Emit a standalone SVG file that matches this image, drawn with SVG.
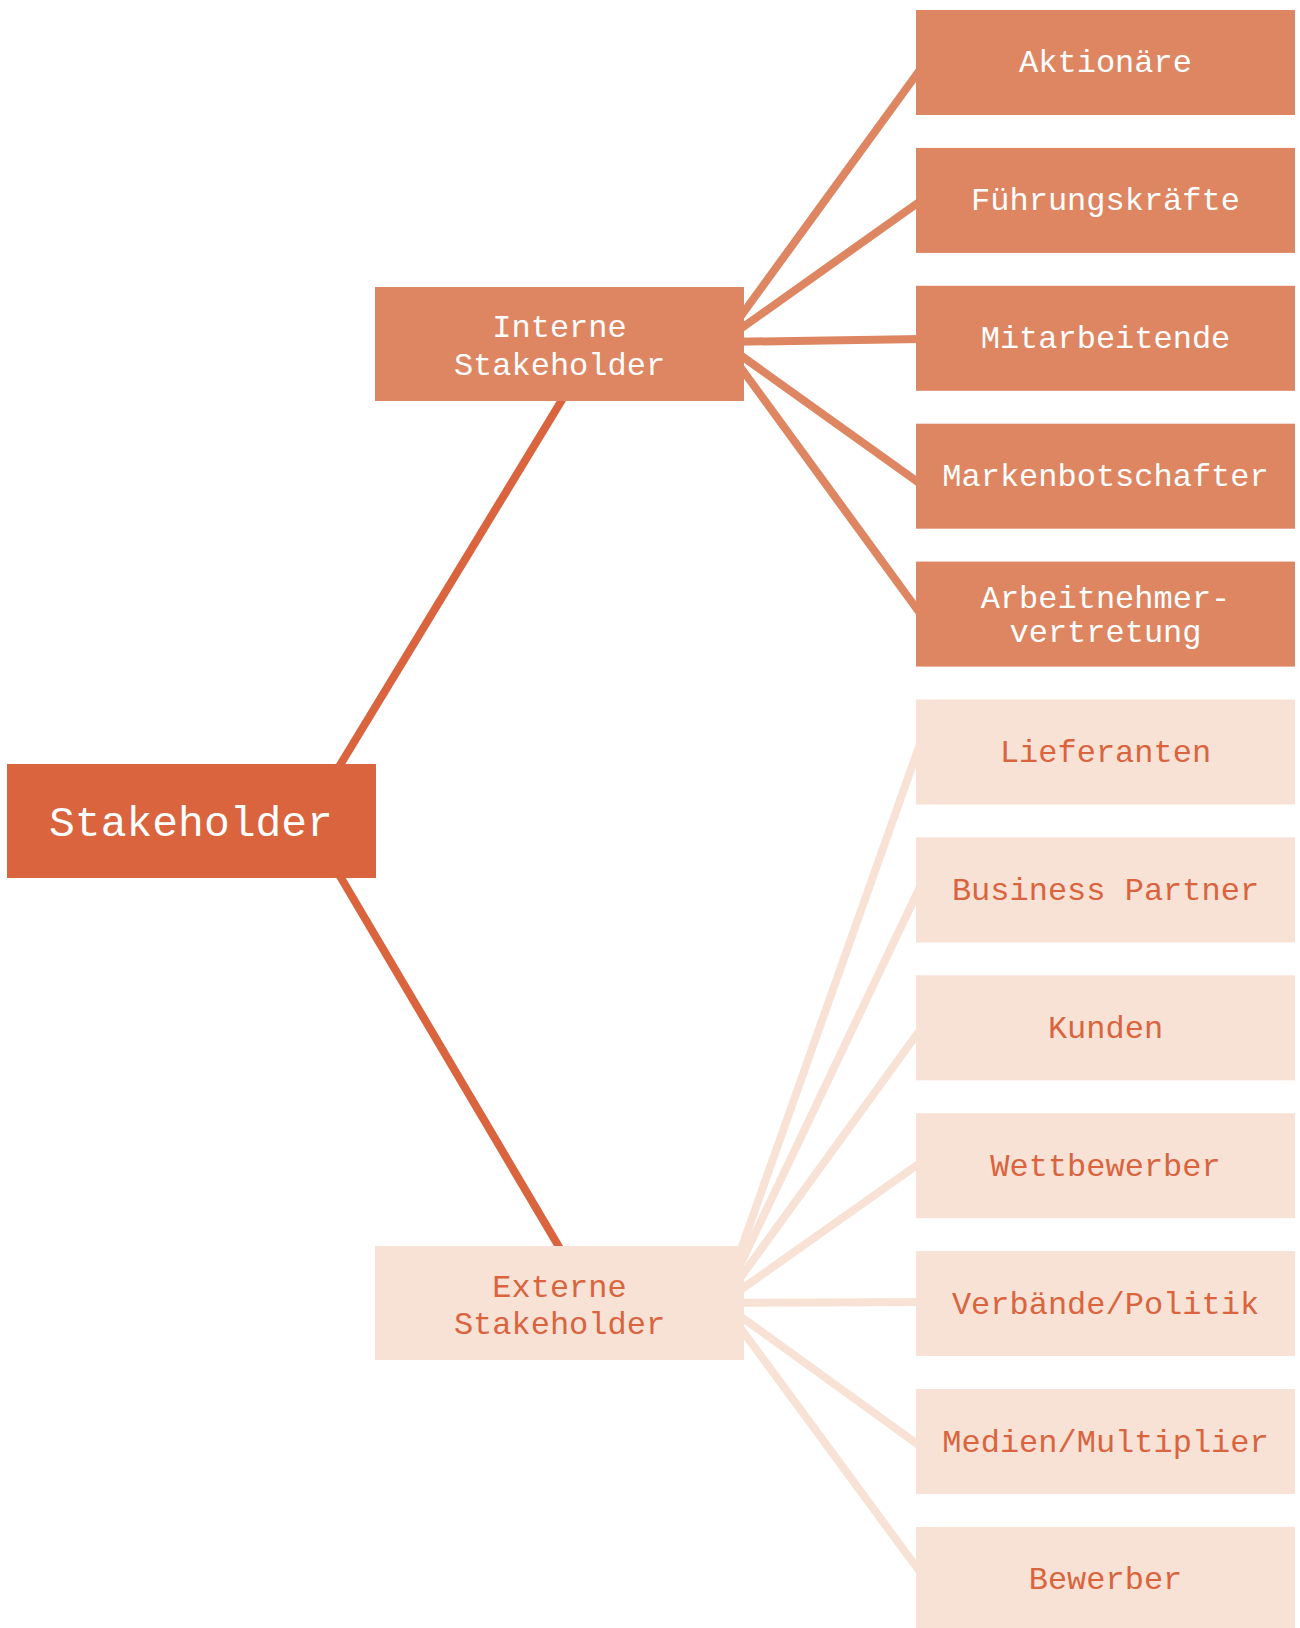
<svg xmlns="http://www.w3.org/2000/svg" width="1300" height="1628" viewBox="0 0 1300 1628">
<style>
.dark{fill:#D9643E}
.mid{fill:#DE8662}
.light{fill:#F8E2D6}
text{font-family:"Liberation Mono","DejaVu Sans Mono",monospace;text-anchor:middle}
.t1{font-size:43px;fill:#FFFFFF}
.t2{font-size:32px;fill:#FFFFFF}
.t3{font-size:32px;fill:#D9643E}
.c0{stroke:#D9643E;stroke-width:8;fill:none}
.c1{stroke:#DE8662;stroke-width:8;fill:none}
.c2{stroke:#F8E2D6;stroke-width:8;fill:none}
</style>
<rect width="1300" height="1628" fill="#FFFFFF"/>
<g id="connectors">
<line class="c0" x1="334" y1="775" x2="568" y2="390"/>
<line class="c0" x1="334" y1="866" x2="565" y2="1257"/>
<line class="c1" x1="722" y1="342" x2="922" y2="67"/>
<line class="c1" x1="722" y1="342" x2="922" y2="200"/>
<line class="c1" x1="722" y1="342" x2="922" y2="339"/>
<line class="c1" x1="722" y1="342" x2="922" y2="485"/>
<line class="c1" x1="722" y1="342" x2="922" y2="616"/>
<line class="c2" x1="722" y1="1303" x2="920" y2="744"/>
<line class="c2" x1="722" y1="1303" x2="920" y2="887"/>
<line class="c2" x1="722" y1="1303" x2="920" y2="1030"/>
<line class="c2" x1="722" y1="1303" x2="920" y2="1163"/>
<line class="c2" x1="722" y1="1303" x2="920" y2="1302"/>
<line class="c2" x1="722" y1="1303" x2="920" y2="1446"/>
<line class="c2" x1="722" y1="1303" x2="920" y2="1572"/>
</g>
<g id="stakeholder"><rect class="dark" x="7" y="764" width="369" height="114"/><text class="t1" x="191" y="836">Stakeholder</text></g>
<g id="interne"><rect class="mid" x="375" y="287" width="369" height="114"/><text class="t2" x="559.5" y="337">Interne</text><text class="t2" x="559.5" y="375">Stakeholder</text></g>
<g id="externe"><rect class="light" x="375" y="1246" width="369" height="114"/><text class="t3" x="559.5" y="1297">Externe</text><text class="t3" x="559.5" y="1334">Stakeholder</text></g>
<g id="aktionaere"><rect class="mid" x="916" y="10" width="379" height="105"/><text class="t2" x="1105.5" y="72">Aktionäre</text></g>
<g id="fuehrungskraefte"><rect class="mid" x="916" y="147.9" width="379" height="105"/><text class="t2" x="1105.5" y="210.4">Führungskräfte</text></g>
<g id="mitarbeitende"><rect class="mid" x="916" y="285.8" width="379" height="105"/><text class="t2" x="1105.5" y="348.3">Mitarbeitende</text></g>
<g id="markenbotschafter"><rect class="mid" x="916" y="423.7" width="379" height="105"/><text class="t2" x="1105.5" y="486.2">Markenbotschafter</text></g>
<g id="arbeitnehmervertretung"><rect class="mid" x="916" y="561.6" width="379" height="105"/><text class="t2" x="1105.5" y="608">Arbeitnehmer-</text><text class="t2" x="1105.5" y="642">vertretung</text></g>
<g id="lieferanten"><rect class="light" x="916" y="699.5" width="379" height="105"/><text class="t3" x="1105.5" y="762">Lieferanten</text></g>
<g id="businesspartner"><rect class="light" x="916" y="837.4" width="379" height="105"/><text class="t3" x="1105.5" y="899.9">Business Partner</text></g>
<g id="kunden"><rect class="light" x="916" y="975.3" width="379" height="105"/><text class="t3" x="1105.5" y="1037.8">Kunden</text></g>
<g id="wettbewerber"><rect class="light" x="916" y="1113.2" width="379" height="105"/><text class="t3" x="1105.5" y="1175.7">Wettbewerber</text></g>
<g id="verbaende"><rect class="light" x="916" y="1251.1" width="379" height="105"/><text class="t3" x="1105.5" y="1313.6">Verbände/Politik</text></g>
<g id="medien"><rect class="light" x="916" y="1389" width="379" height="105"/><text class="t3" x="1105.5" y="1451.5">Medien/Multiplier</text></g>
<g id="bewerber"><rect class="light" x="916" y="1526.9" width="379" height="105"/><text class="t3" x="1105.5" y="1589.4">Bewerber</text></g>
</svg>
